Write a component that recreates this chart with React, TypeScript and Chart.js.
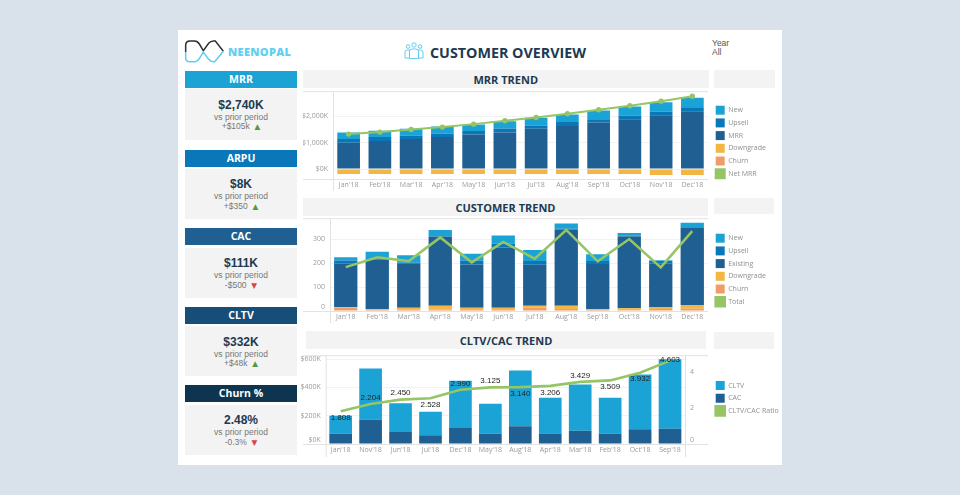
import React, { useEffect, useRef } from "react";
import { Chart, registerables } from "chart.js";

Chart.register(...registerables);

const months = ["Jan'18", "Feb'18", "Mar'18", "Apr'18", "May'18", "Jun'18", "Jul'18", "Aug'18", "Sep'18", "Oct'18", "Nov'18", "Dec'18"];

const mrrNew = [252, 239, 252, 264, 252, 276, 289, 289, 327, 340, 352, 352];
const mrrUpsell = [138, 152, 138, 138, 126, 151, 126, 151, 126, 138, 138, 152];
const mrrBase = [994, 1056, 1132, 1208, 1308, 1384, 1522, 1623, 1761, 1887, 2038, 2188];
const mrrDowngrade = [-161, -161, -161, -161, -161, -161, -161, -161, -161, -161, -198, -198];
const mrrChurn = [-28, -28, -28, -28, -28, -28, -28, -28, -28, -28, -28, -28];
const mrrNet = [1321, 1396, 1497, 1585, 1698, 1824, 1950, 2088, 2239, 2390, 2566, 2755];
const mrrTicks = [0, 1000, 2000];

const custNew = [13, 30, 31, 26, 29, 35, 46, 22, 29, 10, 2, 19];
const custUpsell = [14, 3, 2, 2, 16, 15, 15, 3, 12, 4, 13, 3];
const custExisting = [180, 206, 185, 288, 180, 251, 171, 318, 188, 300, 180, 321];
const custDowngrade = [3, 3, 8, 16, 7, 7, 8, 14, 3, 8, 9, 16];
const custChurn = [14, 5, 6, 6, 7, 7, 14, 8, 5, 3, 8, 9];
const custTotal = [183, 224, 208, 307, 203, 288, 218, 338, 207, 300, 182, 333];
const custTicks = [0, 100, 200, 300];

const cltvMonths = ["Jan'18", "Nov'18", "Jun'18", "Jul'18", "Dec'18", "May'18", "Aug'18", "Apr'18", "Mar'18", "Feb'18", "Oct'18", "Sep'18"];
const cltvValues = [127, 362, 204, 167, 334, 212, 395, 252, 327, 254, 388, 492];
const cacValues = [73, 172, 85, 61, 113, 73, 125, 75, 94, 73, 104, 108];
const ratioValues = [1.808, 2.204, 2.45, 2.528, 2.99, 3.125, 3.14, 3.206, 3.429, 3.509, 3.932, 4.603];
const ratioLabelSide = [1, -1, -1, 1, -1, -1, 1, 1, -1, 1, 1, 0];
const cltvTicks = [0, 200, 400, 600];
const ratioTicks = [0, 2, 4];

const mrrLegend = ["New", "Upsell", "MRR", "Downgrade", "Churn", "Net MRR"];
const custLegend = ["New", "Upsell", "Existing", "Downgrade", "Churn", "Total"];
const cltvLegend = ["CLTV", "CAC", "CLTV/CAC Ratio"];

const kpiCards = [
  { title: "MRR", value: "$2,740K", delta: "+$105k", up: true, head: "#1ba3d6", top: 70.5, headH: 17, boxTop: 89, boxH: 51 },
  { title: "ARPU", value: "$8K", delta: "+$350", up: true, head: "#0a77b8", top: 149.5, headH: 17, boxTop: 168.5, boxH: 50.5 },
  { title: "CAC", value: "$111K", delta: "-$500", up: false, head: "#1f5f92", top: 228, headH: 17, boxTop: 247.5, boxH: 50.5 },
  { title: "CLTV", value: "$332K", delta: "+$48k", up: true, head: "#174e78", top: 306.5, headH: 17, boxTop: 326, boxH: 50 },
  { title: "Churn %", value: "2.48%", delta: "-0.3%", up: false, head: "#0e3550", top: 385, headH: 17, boxTop: 404.5, boxH: 50 },
];

const C = {
  new: "#1ba3d6",
  upsell: "#0a77b8",
  base: "#1f5f92",
  downgrade: "#f4b642",
  churn: "#ee9c68",
  line: "#95c564",
  axisText: "#9a9a9a",
  frame: "#e2e2e2",
  grid: "#f2f2f2",
  dark: "#1d3a52",
};
const AXIS_FONT = { family: "'Open Sans'", size: 7 };

function makeFrame(id: string, startX: number, hasRight: boolean, below: number) {
  return {
    id,
    beforeDatasetsDraw(chart: any) {
      const { ctx, chartArea: a } = chart;
      const rightEdge = hasRight ? chart.scales.y1.right : a.right;
      const end = a.bottom + below;
      ctx.save();
      ctx.strokeStyle = C.frame;
      ctx.lineWidth = 1;
      ctx.beginPath();
      ctx.moveTo(startX, a.top + 0.5);
      ctx.lineTo(rightEdge, a.top + 0.5);
      ctx.moveTo(startX, a.bottom + 0.5);
      ctx.lineTo(rightEdge, a.bottom + 0.5);
      ctx.moveTo(a.left + 0.5, a.top);
      ctx.lineTo(a.left + 0.5, end);
      if (hasRight) {
        ctx.moveTo(a.right + 0.5, a.top);
        ctx.lineTo(a.right + 0.5, end);
      }
      ctx.stroke();
      ctx.restore();
    },
  };
}

function makeLegendMove(id: string, x: number, y: number) {
  return {
    id,
    afterLayout(chart: any) {
      const l = chart.legend;
      if (!l) return;
      const pad = l.options.labels.padding;
      l.left = x - pad;
      l.top = y - pad;
      l.right = l.left + 70;
      l.bottom = l.top + 90;
      l.width = 70;
      l.height = 90;
    },
  };
}

const ratioLabelPlugin = {
  id: "ratioLabels",
  afterDatasetsDraw(chart: any) {
    const idx = chart.data.datasets.findIndex((d: any) => d.type === "line");
    const meta = chart.getDatasetMeta(idx);
    const { ctx } = chart;
    ctx.save();
    ctx.font = "8px 'Liberation Sans'";
    ctx.fillStyle = "#222";
    ctx.textAlign = "center";
    ctx.textBaseline = "middle";
    meta.data.forEach((pt: any, i: number) => {
      ctx.fillText(ratioValues[i].toFixed(3), pt.x, pt.y + ratioLabelSide[i] * 6.5 - (ratioLabelSide[i] === 0 ? 1 : 0));
    });
    ctx.restore();
  },
};

function legendOptions(order: string[]) {
  return {
    display: true,
    position: "chartArea" as const,
    align: "start" as const,
    labels: {
      boxWidth: 9,
      boxHeight: 9,
      padding: 3.7,
      color: "#8f8f8f",
      font: AXIS_FONT,
      sort: (a: any, b: any) => order.indexOf(a.text) - order.indexOf(b.text),
    },
  };
}

function xAxis(labels: string[], height: number) {
  return {
    type: "category" as const,
    labels,
    offset: true,
    stacked: true,
    grid: { display: false, drawTicks: false },
    border: { display: false },
    ticks: { font: AXIS_FONT, color: C.axisText, padding: 2, maxRotation: 0, autoSkip: false },
    afterFit: (s: any) => {
      s.height = height;
    },
  };
}

function yAxis(min: number, max: number, values: number[], width: number, fmt: (v: number) => any, position: "left" | "right" = "left") {
  return {
    type: "linear" as const,
    position,
    stacked: position === "left",
    min,
    max,
    grid: { display: position === "left", color: C.grid, drawTicks: false },
    border: { display: false },
    afterBuildTicks: (s: any) => {
      s.ticks = values.map((value) => ({ value }));
    },
    ticks: { font: AXIS_FONT, color: C.axisText, padding: 5, callback: (v: any) => fmt(Number(v)) },
    afterFit: (s: any) => {
      s.width = width;
    },
  };
}

function bar(label: string, data: number[], color: string, pct: number) {
  return { type: "bar" as const, label, data, backgroundColor: color, borderWidth: 0, categoryPercentage: 1, barPercentage: pct, order: 1 };
}

const Shift = (label: string) => [label, ""];

const box = (left: number, top: number, width: number, height: number): React.CSSProperties => ({
  position: "absolute",
  left,
  top,
  width,
  height,
  background: "#f3f3f3",
});

function Heading({ text, left, top, width, height }: { text: string; left: number; top: number; width: number; height: number }) {
  return (
    <div
      style={{
        ...box(left, top, width, height),
        textAlign: "center",
        font: `700 11px/${height + 2}px 'Open Sans'`,
        color: C.dark,
      }}
    >
      {text}
    </div>
  );
}

export default function App() {
  const ref1 = useRef<HTMLCanvasElement>(null);
  const ref2 = useRef<HTMLCanvasElement>(null);
  const ref3 = useRef<HTMLCanvasElement>(null);

  useEffect(() => {
    const p1 = 0.726;
    const c1 = new Chart(ref1.current!, {
      type: "bar",
      data: {
        labels: months,
        datasets: [
          { type: "line", label: "Net MRR", data: mrrNet, borderColor: C.line, backgroundColor: C.line, borderWidth: 2, pointRadius: 1.7, pointBackgroundColor: C.line, tension: 0, order: 0 },
          bar("MRR", mrrBase, C.base, p1),
          bar("Upsell", mrrUpsell, C.upsell, p1),
          bar("New", mrrNew, C.new, p1),
          bar("Churn", mrrChurn, C.churn, p1),
          bar("Downgrade", mrrDowngrade, C.downgrade, p1),
        ],
      } as any,
      options: {
        animation: false,
        responsive: false,
        layout: { padding: { top: 6, right: 72, left: 0, bottom: 0 } },
        plugins: { legend: legendOptions(mrrLegend), tooltip: { enabled: false } },
        scales: {
          x: xAxis(months, 12),
          y: yAxis(-377, 2943, mrrTicks, 30, (v) => "$" + v.toLocaleString("en-US") + "K"),
        },
      } as any,
      plugins: [makeFrame("frame1", 0, false, 12), makeLegendMove("move1", 412.7, 23.7)],
    });

    const p2 = 0.74;
    const c2 = new Chart(ref2.current!, {
      type: "bar",
      data: {
        labels: months,
        datasets: [
          { type: "line", label: "Total", data: custTotal, borderColor: C.line, backgroundColor: C.line, borderWidth: 2.6, pointRadius: 0, tension: 0, order: 0 },
          bar("Churn", custChurn, C.churn, p2),
          bar("Downgrade", custDowngrade, C.downgrade, p2),
          bar("Existing", custExisting, C.base, p2),
          bar("Upsell", custUpsell, C.upsell, p2),
          bar("New", custNew, C.new, p2),
        ],
      } as any,
      options: {
        animation: false,
        responsive: false,
        layout: { padding: { top: 6, right: 72, left: 0, bottom: 0 } },
        plugins: { legend: legendOptions(custLegend), tooltip: { enabled: false } },
        scales: {
          x: xAxis(months, 14),
          y: yAxis(0, 387, custTicks, 27, (v) => (v === 0 ? Shift("0") : String(v))),
        },
      } as any,
      plugins: [makeFrame("frame2", 0, false, 12), makeLegendMove("move2", 412.7, 24.7)],
    });

    const p3 = 0.757;
    const c3 = new Chart(ref3.current!, {
      type: "bar",
      data: {
        labels: cltvMonths,
        datasets: [
          { type: "line", label: "CLTV/CAC Ratio", data: ratioValues, yAxisID: "y1", borderColor: C.line, backgroundColor: C.line, borderWidth: 2.6, pointRadius: 0, tension: 0, order: 0 },
          bar("CAC", cacValues, C.base, p3),
          bar("CLTV", cltvValues, C.new, p3),
        ],
      } as any,
      options: {
        animation: false,
        responsive: false,
        layout: { padding: { top: 6, right: 72, left: 0, bottom: 0 } },
        plugins: { legend: legendOptions(cltvLegend), tooltip: { enabled: false } },
        scales: {
          x: xAxis(cltvMonths, 14),
          y: yAxis(0, 628, cltvTicks, 27.7, (v) => (v === 0 ? Shift("$0K") : "$" + v + "K")),
          y1: yAxis(0, 4.9, ratioTicks, 23, (v) => (v === 0 ? Shift("0") : String(v)), "right"),
        },
      } as any,
      plugins: [makeFrame("frame3", 5, true, 13), makeLegendMove("move3", 417.7, 35), ratioLabelPlugin],
    });

    return () => {
      c1.destroy();
      c2.destroy();
      c3.destroy();
    };
  }, []);

  const canvasStyle = (left: number, top: number, w: number, h: number): React.CSSProperties => ({
    position: "absolute",
    left,
    top,
    width: w,
    height: h,
    display: "block",
  });

  return (
    <div style={{ position: "fixed", left: 0, top: 0, width: 960, height: 495, background: "#d9e1ea", overflow: "hidden" }}>
      <div style={{ position: "absolute", left: 178, top: 30, width: 604, height: 435, background: "#fff" }} />

      <svg style={{ position: "absolute", left: 178, top: 30 }} width={60} height={40} viewBox="0 0 180 120" fill="none" strokeWidth={4.5}>
        <path d="M23 66 V46 Q23 33 36 33 H50 Q58 33 64 42 L76 62 L92 40 Q98 33 106 33 H112 L136 64" stroke="#2b3238" />
        <path d="M23 66 V84 Q23 95 36 95 H50 Q58 95 64 86 L76 66 L92 88 Q98 95 106 95 H110 L136 64" stroke="#5fcdf0" />
      </svg>
      <div style={{ position: "absolute", left: 228, top: 43.5, font: "800 11px 'Open Sans'", color: "#5fd0f0", letterSpacing: 0.35, lineHeight: "16px" }}>NEENOPAL</div>

      <svg style={{ position: "absolute", left: 404, top: 42 }} width={20} height={18} viewBox="0 0 20 18" fill="none" stroke="#63cdf0" strokeWidth={1}>
        <circle cx={4} cy={4.5} r={1.8} />
        <circle cx={10} cy={3} r={2.2} />
        <circle cx={16} cy={4.5} r={1.8} />
        <path d="M1 16 V10 Q1 8 3.5 8 H5.5 V16 Z" />
        <path d="M14.5 16 V8 H16.5 Q19 8 19 10 V16 Z" />
        <path d="M5.5 16.5 V9.5 Q5.5 7 8 7 H12 Q14.5 7 14.5 9.5 V16.5 Z" />
      </svg>
      <div style={{ position: "absolute", left: 430, top: 42.5, font: "700 14.3px 'Open Sans'", color: C.dark, lineHeight: "20px", whiteSpace: "nowrap" }}>CUSTOMER OVERVIEW</div>

      <div style={{ position: "absolute", left: 712, top: 38.5, font: "8.5px 'Liberation Sans'", color: "#555", lineHeight: "9.5px" }}>
        Year
        <br />
        All
      </div>

      {kpiCards.map((k) => (
        <React.Fragment key={k.title}>
          <div style={{ position: "absolute", left: 185, top: k.top, width: 112, height: k.headH, background: k.head, color: "#fff", textAlign: "center", font: "700 10.5px 'Open Sans'", lineHeight: k.headH + "px" }}>{k.title}</div>
          <div style={{ ...box(185, k.boxTop, 112, k.boxH), textAlign: "center", fontFamily: "'Liberation Sans'" }}>
            <div style={{ position: "absolute", left: 0, right: 0, top: 8.5, font: "700 12px 'Liberation Sans'", color: C.dark, lineHeight: "15px" }}>{k.value}</div>
            <div style={{ position: "absolute", left: 0, right: 0, top: 22.5, font: "8.5px 'Liberation Sans'", color: "#777", lineHeight: "10px" }}>vs prior period</div>
            <div style={{ position: "absolute", left: 0, right: 0, top: 32, font: "8.5px 'Liberation Sans'", color: "#777", lineHeight: "10px" }}>
              {k.delta}&nbsp;&nbsp;<span style={{ color: k.up ? "#4f9a45" : "#d9434a", fontSize: 7.5, fontFamily: "'DejaVu Sans'" }}>{k.up ? "▲" : "▼"}</span>
            </div>
          </div>
        </React.Fragment>
      ))}

      <Heading text="MRR TREND" left={303} top={70} width={405.5} height={18} />
      <div style={box(714, 70, 61, 18)} />
      <Heading text="CUSTOMER TREND" left={303} top={198} width={405} height={18} />
      <div style={box(714, 198, 60, 16)} />
      <Heading text="CLTV/CAC TREND" left={306} top={331} width={400} height={18} />
      <div style={box(714, 332, 60, 17)} />

      <canvas ref={ref1} width={477} height={109} style={canvasStyle(303, 82, 477, 109)} />
      <canvas ref={ref2} width={477} height={116} style={canvasStyle(303, 209, 477, 116)} />
      <canvas ref={ref3} width={482} height={112} style={canvasStyle(298, 346, 482, 112)} />
    </div>
  );
}
